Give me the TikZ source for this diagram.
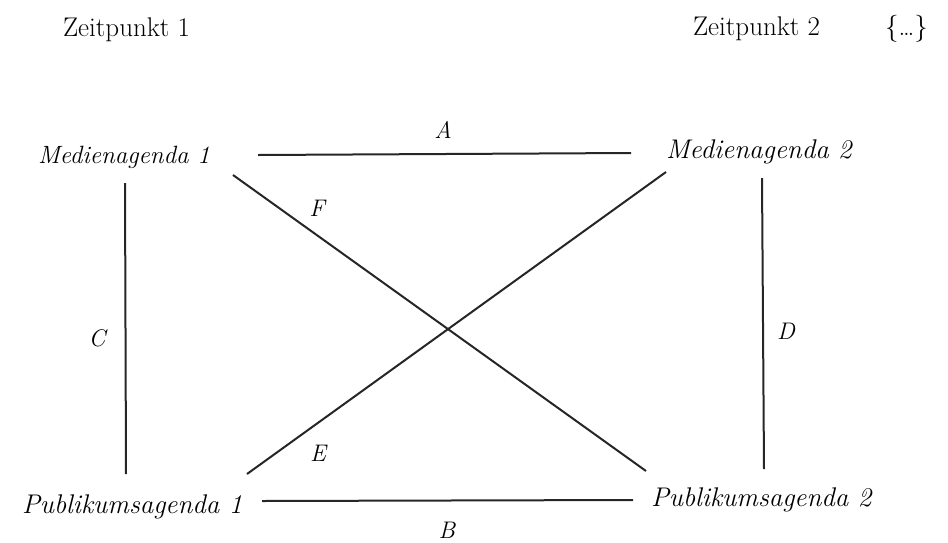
\documentclass[tikz,border=0pt]{standalone}
\begin{document}
\begin{tikzpicture}[x=1pt,y=-1pt,
  every node/.style={inner sep=0pt,outer sep=0pt},
  agenda/.style={font=\fontsize{25}{30}\selectfont\itshape,anchor=base west},
  agendab/.style={font=\fontsize{27}{32}\selectfont\itshape,anchor=base west},
  zeit/.style={font=\fontsize{27}{32}\selectfont,anchor=base west},
  lab/.style={font=\fontsize{24}{28}\selectfont\itshape},
  conn/.style={line width=2pt,black!85}]
\useasboundingbox (0,0) rectangle (948,542);
% headers
\node[zeit] (z1) at (63,36) {Zeitpunkt 1};
\node[zeit] (z2) at (693,35) {Zeitpunkt 2};
\node[zeit] (etc) at (885,35) {\{\dots\}};
% agendas
\node[agenda] (m1) at (38,163) {Medienagenda 1};
\node[agendab] (m2) at (666,158) {Medienagenda 2};
\node[agendab] (p1) at (22,513) {Publikumsagenda 1};
\node[agendab] (p2) at (651,506) {Publikumsagenda 2};
% connector ends
\coordinate (m1e) at (258,155);
\coordinate (m1s) at (125,183);
\coordinate (m1d) at (233,175);
\coordinate (m2w) at (631,153);
\coordinate (m2s) at (762,178);
\coordinate (m2d) at (666,172);
\coordinate (p1e) at (262,501);
\coordinate (p1n) at (126,474);
\coordinate (p1d) at (247,474);
\coordinate (p2w) at (633,500);
\coordinate (p2n) at (764,469);
\coordinate (p2d) at (646,471);
% connectors
\draw[conn] (m1e) -- (m2w);
\draw[conn] (p1e) -- (p2w);
\draw[conn] (m1s) -- (p1n);
\draw[conn] (m2s) -- (p2n);
\draw[conn] (m1d) -- (p2d);
\draw[conn] (p1d) -- (m2d);
% labels
\node[lab] (la) at (443,130) {A};
\node[lab] (lb) at (447,530) {B};
\node[lab] (lc) at (97,338) {C};
\node[lab] (ld) at (786,331) {D};
\node[lab] (le) at (318,453) {E};
\node[lab] (lf) at (317,208) {F};
\end{tikzpicture}
\end{document}
